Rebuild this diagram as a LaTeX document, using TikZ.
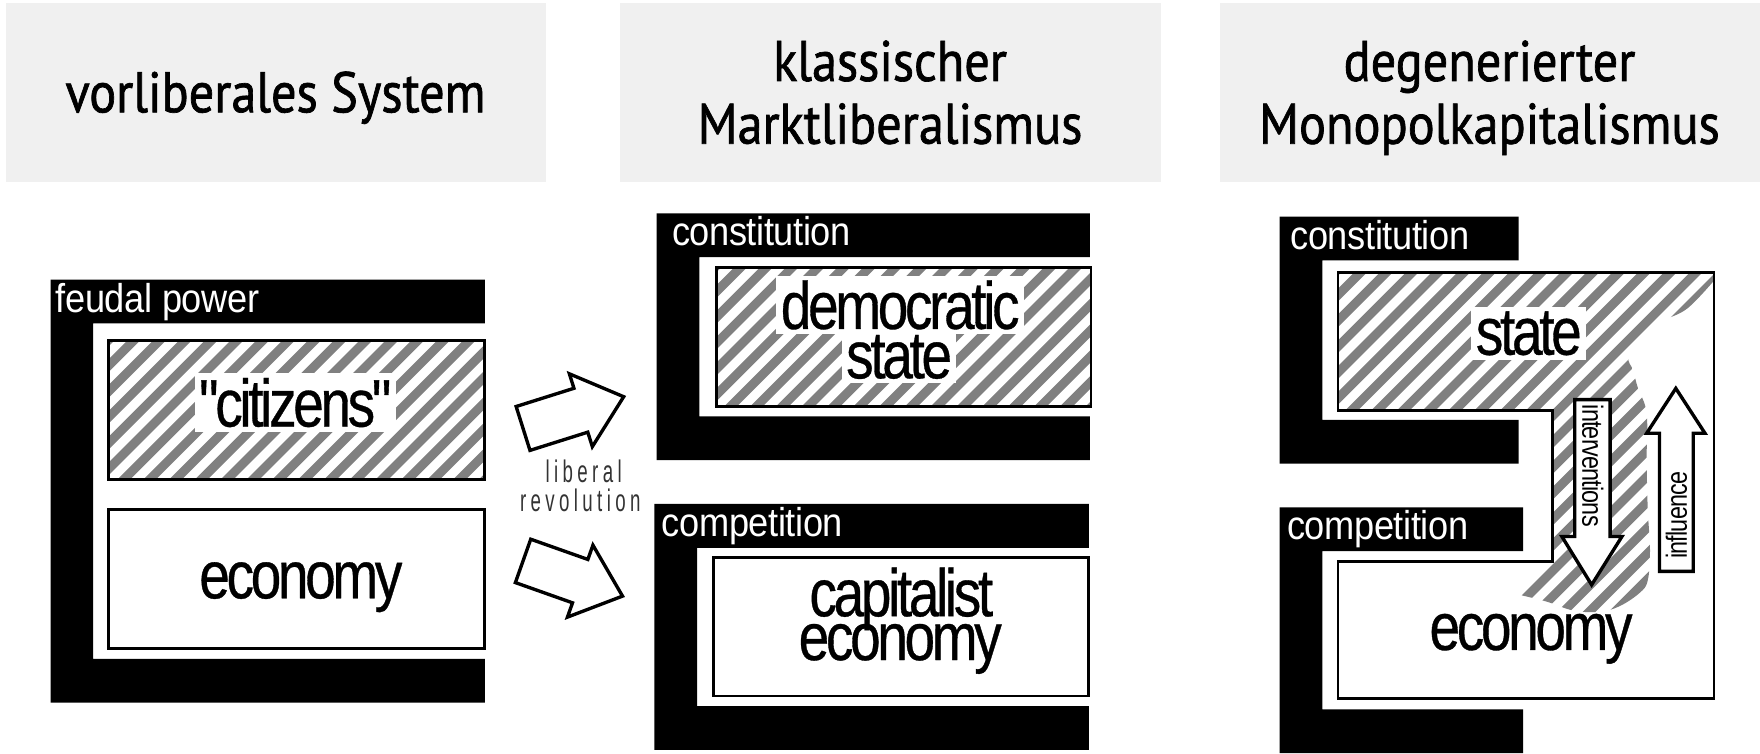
\documentclass[tikz,border=0pt]{standalone}
\usepackage{fontspec}
\setmainfont{Liberation Sans}
\newfontfamily\headfont[FakeStretch=0.88,FakeBold=1.2]{PT Sans}
\newfontfamily\labelfont[FakeStretch=0.82,LetterSpace=-5,FakeBold=0.5]{Liberation Sans}
\newfontfamily\barfont[FakeStretch=0.9,LetterSpace=-1]{Liberation Sans}
\newfontfamily\arrowfont[FakeStretch=0.8,LetterSpace=-3]{Liberation Sans}
\newfontfamily\revfont[FakeStretch=0.6,LetterSpace=14]{Liberation Sans}

\definecolor{headgray}{RGB}{240,240,240}
\definecolor{stripegray}{RGB}{128,128,128}

\tikzset{
  headbox/.style={fill=headgray},
  headtext/.style={font=\headfont\fontsize{14.5}{15.9}\selectfont, align=center, anchor=base, inner sep=0},
  blackbar/.style={fill=black},
  barlabel/.style={font=\barfont\fontsize{10.2}{12}\selectfont, text=white, anchor=base west, inner sep=0},
  box/.style={draw=black, line width=0.25mm, fill=white},
  hatch/.style={path picture={
      \foreach \k in {-24,...,24}
        \draw[stripegray, line width=0.8mm]
          ([xshift=\k*2.3mm]path picture bounding box.center) ++(-40mm,-40mm) -- ++(80mm,80mm);
  }},
  biglabel/.style={font=\labelfont\fontsize{17}{20}\selectfont, anchor=base, inner sep=0.4mm},
  cutout/.style={biglabel, fill=white},
  blockarrow/.style={draw=black, fill=white, line width=0.3mm, line join=miter},
  arrowlabel/.style={font=\arrowfont\fontsize{7.4}{9}\selectfont, inner sep=0},
  revlabel/.style={font=\revfont\fontsize{7.9}{9}\selectfont, text=black!80, anchor=base, inner sep=0},
}

\begin{document}
\begin{tikzpicture}[x=0.1mm, y=-0.1mm]
  \useasboundingbox (0,0) rectangle (1568,671);

  % headings (base = last line)
  \fill[headbox] (5,3) rectangle (486,162);
  \fill[headbox] (552,3) rectangle (1034,162);
  \fill[headbox] (1087,3) rectangle (1568,162);
  \node[headtext] (headA) at (245.5,100) {vorliberales System};
  \node[headtext] (headB) at (793,128) {klassischer\\Marktliberalismus};
  \node[headtext] (headC) at (1327,128) {degenerierter\\Monopolkapitalismus};

  % black frames with their labels
  \foreach \xa/\ya/\xb/\yb/\lx/\nm/\txt in {
      45/249/432/626/4/feudal/feudal power,
      585/190/971/410/13/constB/constitution,
      583/449/970/668/6/compB/competition,
      1140/193/1353/413/9/constC/constitution,
      1140/452/1357/671/6/compC/competition} {
    \fill[blackbar] (\xa,\ya) -- (\xb,\ya) -- (\xb,\ya+39) -- (\xa+38,\ya+39)
      -- (\xa+38,\yb-39) -- (\xb,\yb-39) -- (\xb,\yb) -- (\xa,\yb) -- cycle;
    \node[barlabel] (\nm) at (\xa+\lx,\ya+29) {\txt};
  }

  % pre-liberal system
  \draw[box, hatch] (97,303) rectangle (432,427);
  \draw[box] (97,454) rectangle (432,578);
  \node[cutout] (citizens) at (263,380) {"citizens"};
  \node[biglabel] (econA) at (268,533) {economy};

  % liberal revolution
  \foreach \ty/\ang in {381.7/17.5, 499.7/-19.5} {
    \begin{scope}[shift={(466,\ty)}, rotate=\ang]
      \draw[blockarrow] (0,-20.5) -- (54,-20.5) -- (54,-34) -- (94,0)
        -- (54,34) -- (54,20.5) -- (0,20.5) -- cycle;
    \end{scope}
  }
  \node[revlabel] (liberal) at (520,430) {liberal};
  \node[revlabel] (revol) at (517,456) {revolution};

  % classical liberalism
  \draw[box, hatch] (638,238) rectangle (972,362);
  \draw[box] (636,497) rectangle (970,620);
  \node[cutout] (demo) at (802,293) {democratic};
  \node[cutout] (stateB) at (801,337) {state};
  \node[biglabel] (capit) at (803,549) {capitalist};
  \node[biglabel] (econB) at (802,588) {economy};

  % monopoly capitalism: state spreading into the economy
  \path[hatch] (1192,243) -- (1527,243) -- plot[smooth, tension=0.6] coordinates {
      (1527,250) (1503,275) (1479,287) (1464,300) (1451,318) (1455,330)
      (1459,345) (1467,368) (1467,410) (1468,454) (1470,490) (1468,517)
      (1461,528) (1443,540) (1425,545) (1402,544) (1378,536) (1354,530)}
    -- (1383,501) -- (1383,366) -- (1192,366) -- cycle;
  \draw[box, fill=none] (1192,243) -- (1527,243) -- (1527,622) -- (1192,622)
    -- (1192,500) -- (1383,500) -- (1383,366) -- (1192,366) -- cycle;
  \node[cutout] (stateC) at (1362,316) {state};
  \node[biglabel] (econC) at (1364,579) {economy};

  \draw[blockarrow] (1403,356) -- (1434.5,356) -- (1434.5,478) -- (1445,478)
    -- (1418,521) -- (1391.5,478) -- (1403,478) -- cycle;
  \draw[blockarrow] (1478.5,509) -- (1508.5,509) -- (1508.5,386) -- (1519,386)
    -- (1493,346) -- (1467,386) -- (1478.5,386) -- cycle;
  \node[arrowlabel, rotate=-90] (interv) at (1419,415) {interventions};
  \node[arrowlabel, rotate=90] (influ) at (1493.5,459) {influence};
\end{tikzpicture}
\end{document}
